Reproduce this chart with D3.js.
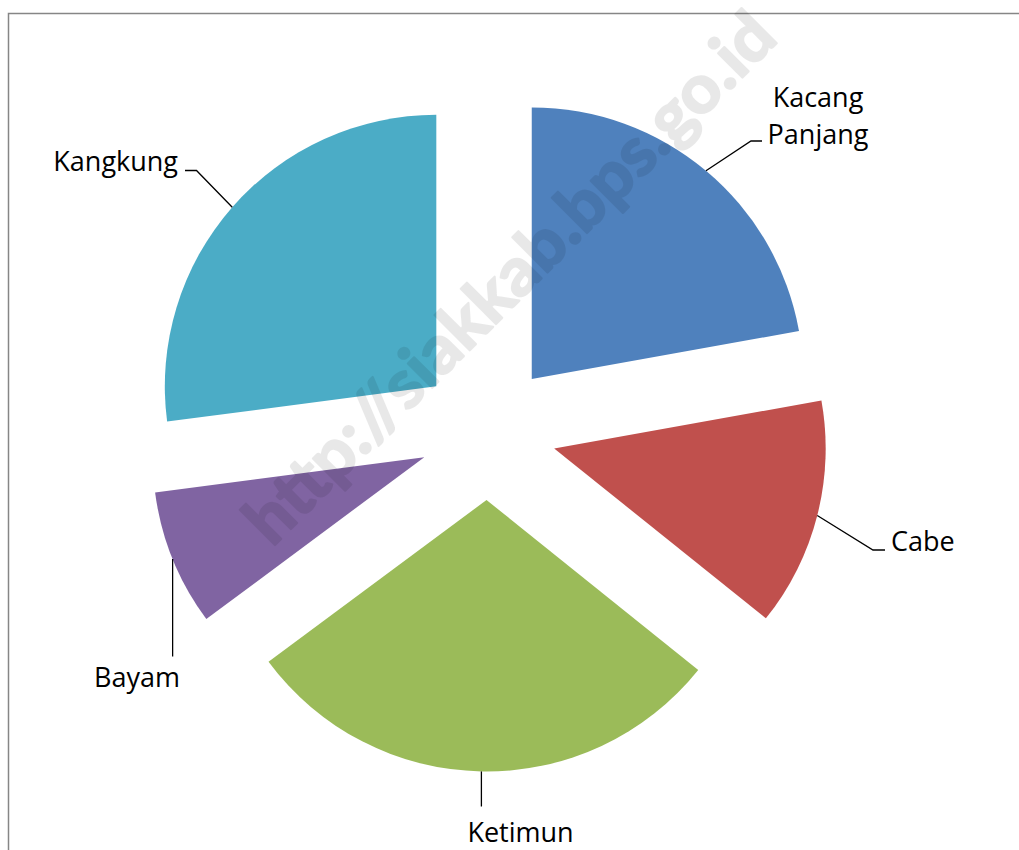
<!DOCTYPE html>
<html>
<head>
<meta charset="utf-8">
<script src="https://cdn.jsdelivr.net/npm/d3@7/dist/d3.min.js"></script>
<style>
  html, body { margin: 0; padding: 0; background: #ffffff; }
  svg { display: block; }
</style>
</head>
<body>
<svg id="chart" width="1019" height="850"></svg>
<script>
// ---- data ----
const categories = ["Kacang Panjang", "Cabe", "Ketimun", "Bayam", "Kangkung"];
const values = [22.2, 13.6, 29.1, 8.1, 27.1];
const sliceColors = ["#4F81BD", "#C0504D", "#9BBB59", "#8064A2", "#4BACC6"];
const watermarkText = "http://siakkab.bps.go.id";

// ---- layout ----
const W = 1019, H = 850;
const cx = 487.8, cy = 431.5, radius = 271.5, explode = 68.5;
// leader elbow / end points and label anchors (null x = keep leader vertical)
const labelLayout = [
  { path: [[751, 141], [762, 141]], x: 818, y: 107, anchor: "middle", wrap: true },
  { path: [[873, 550], [885, 550]], x: 891, y: 551, anchor: "start" },
  { path: [[null, 806.5]], x: 520.5, y: 842, anchor: "middle" },
  { path: [[null, 656.5]], x: 137, y: 687, anchor: "middle" },
  { path: [[196.5, 170.5], [185, 170.5]], x: 178, y: 171, anchor: "end" }
];

const svg = d3.select("#chart");

// chart area border (top + left visible)
svg.append("rect")
  .attr("x", 8.5).attr("y", 13.5)
  .attr("width", W + 50).attr("height", H + 50)
  .attr("fill", "none").attr("stroke", "#868686").attr("stroke-width", 1.5);

const pie = d3.pie().sort(null).value(d => d)
  .startAngle(0).endAngle(2 * Math.PI);
const arcs = pie(values);
const arc = d3.arc().innerRadius(0).outerRadius(radius);

const g = svg.append("g").attr("transform", `translate(${cx},${cy})`);

function offset(a) {
  const m = (a.startAngle + a.endAngle) / 2;
  return [explode * Math.sin(m), -explode * Math.cos(m)];
}

g.selectAll("path.slice")
  .data(arcs)
  .join("path")
  .attr("class", "slice")
  .attr("d", arc)
  .attr("fill", (d, i) => sliceColors[i])
  .attr("transform", d => { const o = offset(d); return `translate(${o[0]},${o[1]})`; });

// leader lines
arcs.forEach((a, i) => {
  const m = (a.startAngle + a.endAngle) / 2;
  const o = offset(a);
  const sx = cx + o[0] + radius * Math.sin(m);
  const sy = cy + o[1] - radius * Math.cos(m);
  const pts = [[sx, sy]].concat(labelLayout[i].path.map(p => [p[0] === null ? sx : p[0], p[1]]));
  svg.append("path")
    .attr("d", d3.line()(pts))
    .attr("fill", "none")
    .attr("stroke", "#000")
    .attr("stroke-width", 1.3);
});

// labels
categories.forEach((c, i) => {
  const L = labelLayout[i];
  const t = svg.append("text")
    .attr("x", L.x).attr("y", L.y)
    .attr("text-anchor", L.anchor)
    .attr("font-family", "'Open Sans', sans-serif")
    .attr("font-size", 27)
    .attr("fill", "#000");
  const lines = L.wrap ? c.split(" ") : [c];
  lines.forEach((ln, k) => {
    t.append("tspan").attr("x", L.x).attr("dy", k === 0 ? 0 : 37).text(ln);
  });
});

// watermark
svg.append("g")
  .attr("opacity", 0.085)
  .append("text")
  .attr("transform", "translate(272,548) rotate(-45)")
  .attr("x", 0).attr("y", 0)
  .attr("font-family", "Lato, sans-serif")
  .attr("font-weight", 700)
  .attr("font-size", 67)
  .attr("textLength", 718)
  .attr("lengthAdjust", "spacingAndGlyphs")
  .attr("fill", "#000")
  .attr("stroke", "#000")
  .attr("stroke-width", 2.2)
  .attr("stroke-linejoin", "round")
  .text(watermarkText);
</script>
</body>
</html>
